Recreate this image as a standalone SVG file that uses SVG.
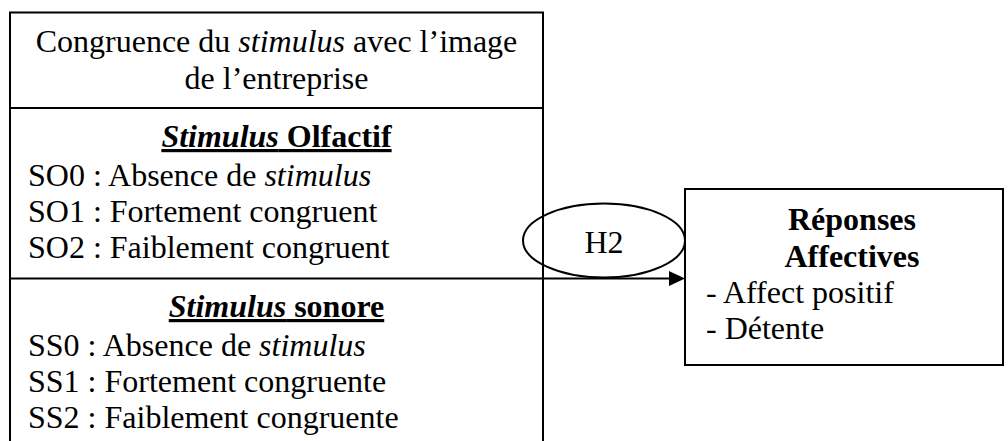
<svg xmlns="http://www.w3.org/2000/svg" width="1008" height="441" viewBox="0 0 1008 441" font-family="Liberation Serif, DejaVu Serif, serif">
<style>
text{font-family:"Liberation Serif","DejaVu Serif",serif;font-size:32px;fill:#000}
.c{text-anchor:middle}
.b{font-weight:bold}
.i{font-style:italic}
.u{text-decoration:underline}
.ln{stroke:#000;stroke-width:2;fill:none}
</style>
<rect width="1008" height="441" fill="#fff"/>
<g id="left-box">
<path class="ln" d="M10,441 V12.5 H543 V441 M10,108 H543"/>
<text class="c" x="276.5" y="52">Congruence du <tspan class="i">stimulus</tspan> avec l’image</text>
<text class="c" x="276.5" y="89">de l’entreprise</text>
</g>
<g id="olfactif">
<text class="c b u" x="276.5" y="147"><tspan class="i">Stimulus</tspan> Olfactif</text>
<text x="28" y="186">SO0 : Absence de <tspan class="i">stimulus</tspan></text>
<text x="28" y="222">SO1 : Fortement congruent</text>
<text x="28" y="258">SO2 : Faiblement congruent</text>
</g>
<g id="sonore">
<text class="c b u" x="276.5" y="317"><tspan class="i">Stimulus</tspan> sonore</text>
<text x="28" y="356">SS0 : Absence de <tspan class="i">stimulus</tspan></text>
<text x="28" y="392">SS1 : Fortement congruente</text>
<text x="28" y="428">SS2 : Faiblement congruente</text>
</g>
<g id="connectors">
<line class="ln" x1="10" y1="278.5" x2="670" y2="278.5"/>
<polygon points="669,271 685,278.5 669,286" fill="#000"/>
</g>
<g id="h2">
<ellipse class="ln" cx="604" cy="240.5" rx="81" ry="37"/>
<text class="c" x="604" y="253">H2</text>
</g>
<g id="reponses">
<rect class="ln" x="685" y="189" width="318" height="176"/>
<text class="c b" x="852" y="230">Réponses</text>
<text class="c b" x="852" y="267">Affectives</text>
<text x="706" y="303">- Affect positif</text>
<text x="706" y="339">- Détente</text>
</g>
</svg>
